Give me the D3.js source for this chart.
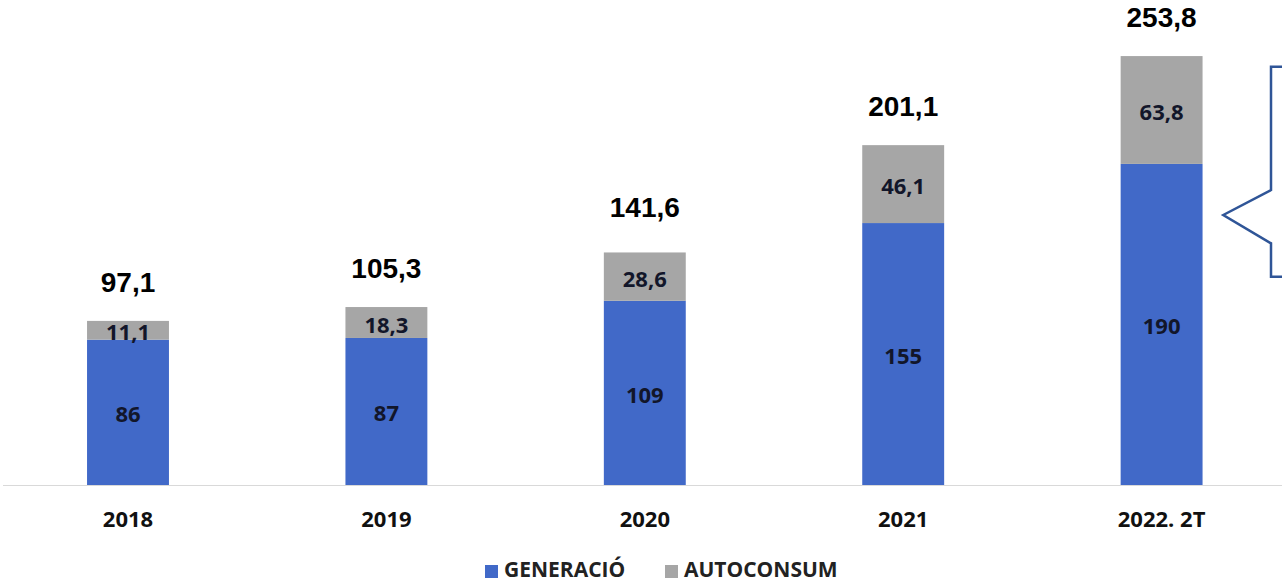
<!DOCTYPE html>
<html><head><meta charset="utf-8">
<script src="https://cdn.jsdelivr.net/npm/d3@7"></script>
<style>html,body{margin:0;padding:0;background:#fff;overflow:hidden}</style>
</head><body>
<svg id="c" width="1282" height="584"></svg>
<script>
const categories = ["2018", "2019", "2020", "2021", "2022. 2T"];
const generacio = [86, 87, 109, 155, 190];
const autoconsum = [11.1, 18.3, 28.6, 46.1, 63.8];
const totals = [97.1, 105.3, 141.6, 201.1, 253.8];
const seriesNames = ["GENERACIÓ", "AUTOCONSUM"];
const colors = ["#4169c8", "#a6a6a6"];

const fmt = v => String(v).replace(".", ",");
const svg = d3.select("#c");

const x = d3.scaleBand().domain(categories).range([-1.2, 1290.8]).paddingInner(0.683).paddingOuter(0.3415);
const y = d3.scaleLinear().domain([0, 260]).range([485, 45.6]);

const rows = categories.map((c, i) => ({cat: c, g: generacio[i], a: autoconsum[i], t: totals[i]}));
const stack = d3.stack().keys(["g", "a"])(rows);

// axis line
svg.append("line").attr("x1", 3).attr("x2", 1282).attr("y1", y(0) + 0.5).attr("y2", y(0) + 0.5)
  .attr("stroke", "#d9d9d9").attr("stroke-width", 1.2);

stack.forEach((layer, li) => {
  const g = svg.append("g");
  g.selectAll("rect").data(layer).join("rect")
    .attr("x", d => x(d.data.cat)).attr("width", x.bandwidth())
    .attr("y", d => y(d[1])).attr("height", d => y(d[0]) - y(d[1]))
    .attr("fill", colors[li]);
  g.selectAll("text").data(layer).join("text")
    .attr("x", d => x(d.data.cat) + x.bandwidth() / 2)
    .attr("y", d => (y(d[0]) + y(d[1])) / 2 + 1)
    .attr("text-anchor", "middle").attr("dominant-baseline", "central")
    .attr("font-family", "'Open Sans', sans-serif").attr("font-weight", 700).attr("font-size", 22)
    .attr("fill", "#12162a")
    .text(d => fmt(li === 0 ? d.data.g : d.data.a));
});

// totals
svg.append("g").selectAll("text").data(rows).join("text")
  .attr("x", d => x(d.cat) + x.bandwidth() / 2)
  .attr("y", d => y(d.t) - 29)
  .attr("text-anchor", "middle")
  .attr("font-family", "'Liberation Sans', Arial, sans-serif").attr("font-weight", 700).attr("font-size", 28)
  .attr("fill", "#000")
  .text(d => fmt(d.t));

// category labels
const xAxis = svg.append("g").attr("transform", `translate(0,${y(0)})`)
  .call(d3.axisBottom(x).tickSize(0).tickPadding(0));
xAxis.select(".domain").remove();
xAxis.selectAll("text").attr("y", 42).attr("dy", 0)
  .attr("font-family", "'Open Sans', sans-serif").attr("font-weight", 700).attr("font-size", 22)
  .attr("fill", "#111");

// legend
const legendX = [485, 665];
const leg = svg.append("g");
seriesNames.forEach((n, i) => {
  leg.append("rect").attr("x", legendX[i]).attr("y", 565).attr("width", 13).attr("height", 13).attr("fill", colors[i]);
  leg.append("text").attr("x", legendX[i] + 19).attr("y", 577)
    .attr("font-family", "'Open Sans', sans-serif").attr("font-weight", 700).attr("font-size", 21)
    .attr("fill", "#222").text(n);
});

// callout shape (decoration)
svg.append("path")
  .attr("d", "M1290,66.7 L1271,66.7 L1271,190 L1223.3,215 L1271,243.3 L1271,276.7 L1290,276.7")
  .attr("fill", "#fff").attr("stroke", "#2f5597").attr("stroke-width", 2.5);
</script>
</body></html>
